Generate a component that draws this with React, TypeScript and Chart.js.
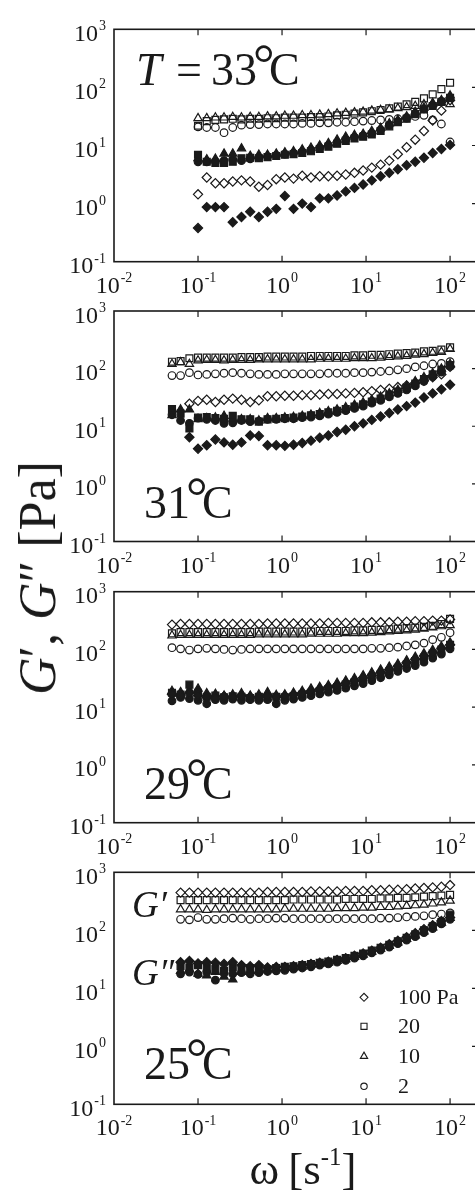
import React, { useEffect, useRef } from 'react';
import { Chart, registerables } from 'chart.js';
import { drawPoint } from 'chart.js/helpers';

Chart.register(...registerables);

const SERIF = '"Liberation Serif", "Times New Roman", Times, serif';
const INK = '#1a1a1a';

// ---------- axis ticks (decade exponents) ----------
const xTickExp = [-2, -1, 0, 1, 2];
const yTickExp = [-1, 0, 1, 2, 3];

// ---------- legend / series categories ----------
const stressLabels = ['100 Pa', '20', '10', '2'];
const temperatures = ['33', '31', '29', '25'];

// ---------- angular frequency ω [s^-1] ----------
const omega33 = [0.1, 0.127, 0.161, 0.204, 0.259, 0.329, 0.418, 0.53, 0.672, 0.853, 1.08, 1.37, 1.74, 2.21, 2.81, 3.56, 4.52, 5.73, 7.28, 9.23, 11.7, 14.9, 18.9, 23.9, 30.4, 38.5, 48.9, 62.1, 78.8, 100];
const omega31 = [0.049, 0.062, 0.079, 0.1, 0.127, 0.161, 0.204, 0.259, 0.329, 0.418, 0.53, 0.672, 0.853, 1.08, 1.37, 1.74, 2.21, 2.81, 3.56, 4.52, 5.73, 7.28, 9.23, 11.7, 14.9, 18.9, 23.9, 30.4, 38.5, 48.9, 62.1, 78.8, 100];
const omega29 = [0.049, 0.062, 0.079, 0.1, 0.127, 0.161, 0.204, 0.259, 0.329, 0.418, 0.53, 0.672, 0.853, 1.08, 1.37, 1.74, 2.21, 2.81, 3.56, 4.52, 5.73, 7.28, 9.23, 11.7, 14.9, 18.9, 23.9, 30.4, 38.5, 48.9, 62.1, 78.8, 100];
const omega25 = [0.062, 0.079, 0.1, 0.127, 0.161, 0.204, 0.259, 0.329, 0.418, 0.53, 0.672, 0.853, 1.08, 1.37, 1.74, 2.21, 2.81, 3.56, 4.52, 5.73, 7.28, 9.23, 11.7, 14.9, 18.9, 23.9, 30.4, 38.5, 48.9, 62.1, 78.8, 100];

// ---------- moduli, stored as log10(G / Pa) ----------
// T = 33 °C
const gp33_100 = [0.16, 0.45, 0.35, 0.35, 0.38, 0.40, 0.38, 0.29, 0.32, 0.42, 0.45, 0.43, 0.48, 0.45, 0.47, 0.47, 0.48, 0.50, 0.53, 0.57, 0.62, 0.67, 0.74, 0.85, 0.97, 1.10, 1.25, 1.43, 1.60, 1.78];
const gp33_20 = [1.34, 1.42, 1.44, 1.45, 1.46, 1.45, 1.46, 1.46, 1.47, 1.47, 1.48, 1.48, 1.48, 1.49, 1.49, 1.50, 1.52, 1.53, 1.55, 1.57, 1.59, 1.61, 1.64, 1.67, 1.71, 1.75, 1.81, 1.88, 1.97, 2.08];
const gp33_10 = [1.47, 1.47, 1.48, 1.48, 1.49, 1.48, 1.49, 1.49, 1.50, 1.50, 1.51, 1.51, 1.52, 1.52, 1.53, 1.54, 1.55, 1.56, 1.57, 1.58, 1.60, 1.61, 1.62, 1.64, 1.66, 1.68, 1.71, 1.73, 1.74, 1.71];
const gp33_2 = [1.32, 1.31, 1.31, 1.22, 1.31, 1.35, 1.36, 1.36, 1.37, 1.37, 1.37, 1.37, 1.38, 1.38, 1.39, 1.39, 1.40, 1.40, 1.41, 1.42, 1.43, 1.44, 1.45, 1.46, 1.48, 1.50, 1.52, 1.44, 1.37, 1.06];
const gpp33_100 = [-0.42, -0.06, -0.06, -0.06, -0.32, -0.23, -0.14, -0.23, -0.14, -0.09, 0.13, -0.09, 0.00, -0.06, 0.09, 0.09, 0.14, 0.21, 0.27, 0.33, 0.40, 0.47, 0.53, 0.59, 0.66, 0.72, 0.79, 0.87, 0.94, 1.01];
const gpp33_20 = [0.84, 0.72, 0.70, 0.70, 0.72, 0.78, 0.79, 0.78, 0.80, 0.82, 0.84, 0.85, 0.87, 0.90, 0.94, 0.98, 1.03, 1.08, 1.12, 1.15, 1.19, 1.25, 1.33, 1.40, 1.46, 1.54, 1.62, 1.68, 1.75, 1.82];
const gpp33_10 = [0.78, 0.76, 0.77, 0.86, 0.86, 0.95, 0.82, 0.84, 0.84, 0.86, 0.88, 0.90, 0.93, 0.96, 1.00, 1.04, 1.10, 1.15, 1.18, 1.20, 1.25, 1.30, 1.38, 1.44, 1.50, 1.58, 1.65, 1.72, 1.78, 1.86];
const gpp33_2 = [0.72, 0.72, 0.72, 0.74, 0.76, 0.74, 0.77, 0.79, 0.81, 0.83, 0.85, 0.87, 0.89, 0.92, 0.96, 1.00, 1.05, 1.10, 1.14, 1.17, 1.21, 1.27, 1.35, 1.41, 1.47, 1.55, 1.63, 1.69, 1.76, 1.82];

// T = 31 °C
const gp31_100 = [null, null, 1.39, 1.44, 1.46, 1.42, 1.46, 1.48, 1.46, 1.42, 1.45, 1.52, 1.52, 1.53, 1.53, 1.54, 1.54, 1.55, 1.56, 1.56, 1.57, 1.58, 1.59, 1.61, 1.63, 1.65, 1.68, 1.71, 1.75, 1.79, 1.85, 1.90, 2.03];
const gp31_20 = [2.12, 2.13, 2.18, 2.19, 2.19, 2.19, 2.19, 2.19, 2.20, 2.20, 2.20, 2.21, 2.21, 2.21, 2.21, 2.21, 2.22, 2.22, 2.22, 2.22, 2.22, 2.23, 2.23, 2.24, 2.24, 2.25, 2.26, 2.27, 2.28, 2.30, 2.31, 2.33, 2.37];
const gp31_10 = [2.08, 2.11, 2.08, 2.14, 2.15, 2.15, 2.14, 2.15, 2.15, 2.15, 2.16, 2.16, 2.16, 2.16, 2.16, 2.16, 2.16, 2.17, 2.17, 2.17, 2.17, 2.18, 2.18, 2.18, 2.19, 2.20, 2.21, 2.22, 2.24, 2.25, 2.27, 2.29, 2.34];
const gp31_2 = [1.88, 1.88, 1.93, 1.89, 1.90, 1.91, 1.92, 1.93, 1.92, 1.91, 1.90, 1.90, 1.90, 1.91, 1.91, 1.91, 1.91, 1.91, 1.92, 1.92, 1.92, 1.93, 1.93, 1.94, 1.95, 1.96, 1.98, 2.00, 2.03, 2.05, 2.08, 2.09, 2.12];
const gpp31_100 = [null, null, 0.81, 0.61, 0.67, 0.77, 0.72, 0.68, 0.72, 0.84, 0.83, 0.67, 0.67, 0.66, 0.68, 0.71, 0.75, 0.80, 0.84, 0.90, 0.94, 1.00, 1.05, 1.11, 1.17, 1.23, 1.29, 1.35, 1.41, 1.50, 1.57, 1.64, 1.72];
const gpp31_20 = [1.30, 1.22, 0.96, 1.15, 1.16, 1.14, 1.13, 1.18, 1.12, 1.12, 1.08, 1.12, 1.13, 1.14, 1.15, 1.17, 1.19, 1.21, 1.24, 1.27, 1.30, 1.34, 1.38, 1.43, 1.48, 1.54, 1.60, 1.67, 1.74, 1.82, 1.90, 1.98, 2.06];
const gpp31_10 = [1.19, 1.29, 1.29, 1.12, 1.14, 1.15, 1.18, 1.13, 1.12, 1.12, 1.10, 1.14, 1.14, 1.15, 1.16, 1.18, 1.20, 1.23, 1.26, 1.29, 1.33, 1.37, 1.41, 1.46, 1.51, 1.57, 1.63, 1.70, 1.78, 1.85, 1.92, 2.00, 2.08];
const gpp31_2 = [1.20, 1.10, 1.05, 1.14, 1.12, 1.10, 1.05, 1.06, 1.10, 1.08, 1.09, 1.12, 1.12, 1.13, 1.13, 1.15, 1.16, 1.18, 1.21, 1.24, 1.27, 1.31, 1.35, 1.40, 1.45, 1.51, 1.57, 1.63, 1.70, 1.78, 1.86, 1.94, 2.04];

// T = 29 °C
const gp29_100 = [2.43, 2.44, 2.44, 2.44, 2.44, 2.44, 2.44, 2.44, 2.44, 2.44, 2.44, 2.45, 2.45, 2.45, 2.45, 2.45, 2.45, 2.45, 2.46, 2.46, 2.46, 2.46, 2.46, 2.47, 2.47, 2.47, 2.48, 2.48, 2.49, 2.49, 2.50, 2.50, 2.52];
const gp29_20 = [2.28, 2.30, 2.30, 2.30, 2.30, 2.30, 2.30, 2.30, 2.30, 2.30, 2.31, 2.31, 2.31, 2.31, 2.31, 2.31, 2.31, 2.32, 2.32, 2.32, 2.32, 2.33, 2.33, 2.34, 2.34, 2.35, 2.36, 2.37, 2.38, 2.39, 2.41, 2.44, 2.53];
const gp29_10 = [2.24, 2.25, 2.25, 2.25, 2.25, 2.25, 2.25, 2.25, 2.25, 2.25, 2.26, 2.26, 2.26, 2.26, 2.26, 2.26, 2.27, 2.27, 2.27, 2.27, 2.28, 2.28, 2.28, 2.29, 2.30, 2.31, 2.32, 2.33, 2.34, 2.36, 2.38, 2.40, 2.42];
const gp29_2 = [2.03, 2.01, 1.99, 2.01, 2.02, 2.01, 2.00, 1.99, 2.00, 2.01, 2.01, 2.01, 2.01, 2.01, 2.01, 2.01, 2.01, 2.01, 2.01, 2.01, 2.01, 2.01, 2.01, 2.02, 2.02, 2.03, 2.04, 2.06, 2.08, 2.11, 2.17, 2.21, 2.29];
const gpp29_100 = [1.22, 1.20, 1.24, 1.20, 1.17, 1.15, 1.19, 1.17, 1.20, 1.18, 1.17, 1.20, 1.18, 1.20, 1.22, 1.25, 1.28, 1.31, 1.35, 1.38, 1.42, 1.46, 1.51, 1.55, 1.60, 1.65, 1.71, 1.77, 1.83, 1.89, 1.95, 2.02, 2.08];
const gpp29_20 = [1.25, 1.22, 1.39, 1.25, 1.18, 1.20, 1.17, 1.19, 1.18, 1.16, 1.18, 1.17, 1.18, 1.17, 1.19, 1.22, 1.25, 1.28, 1.31, 1.35, 1.39, 1.43, 1.47, 1.52, 1.57, 1.62, 1.68, 1.74, 1.80, 1.86, 1.93, 2.00, 2.08];
const gpp29_10 = [1.28, 1.26, 1.30, 1.32, 1.24, 1.23, 1.20, 1.22, 1.24, 1.20, 1.22, 1.26, 1.21, 1.22, 1.25, 1.28, 1.32, 1.35, 1.38, 1.42, 1.46, 1.50, 1.55, 1.60, 1.65, 1.70, 1.75, 1.81, 1.87, 1.93, 1.99, 2.05, 2.12];
const gpp29_2 = [1.11, 1.17, 1.15, 1.12, 1.06, 1.13, 1.12, 1.14, 1.12, 1.13, 1.12, 1.13, 1.06, 1.12, 1.14, 1.17, 1.20, 1.23, 1.26, 1.29, 1.33, 1.37, 1.41, 1.46, 1.51, 1.56, 1.62, 1.67, 1.72, 1.78, 1.85, 1.92, 2.01];

// T = 25 °C
const gp25_100 = [2.65, 2.65, 2.65, 2.65, 2.65, 2.65, 2.65, 2.65, 2.65, 2.65, 2.66, 2.66, 2.66, 2.66, 2.66, 2.67, 2.67, 2.67, 2.67, 2.68, 2.68, 2.68, 2.69, 2.69, 2.70, 2.70, 2.71, 2.72, 2.73, 2.74, 2.75, 2.78];
const gp25_20 = [2.52, 2.52, 2.52, 2.52, 2.52, 2.52, 2.52, 2.52, 2.52, 2.52, 2.52, 2.52, 2.52, 2.53, 2.53, 2.53, 2.53, 2.53, 2.53, 2.54, 2.54, 2.54, 2.54, 2.55, 2.55, 2.56, 2.56, 2.57, 2.58, 2.59, 2.60, 2.61];
const gp25_10 = [2.36, 2.36, 2.36, 2.35, 2.36, 2.36, 2.36, 2.36, 2.36, 2.36, 2.36, 2.36, 2.37, 2.37, 2.37, 2.37, 2.37, 2.37, 2.38, 2.38, 2.38, 2.39, 2.39, 2.40, 2.40, 2.41, 2.42, 2.43, 2.44, 2.46, 2.48, 2.51];
const gp25_2 = [2.19, 2.18, 2.22, 2.19, 2.19, 2.20, 2.21, 2.20, 2.19, 2.20, 2.20, 2.21, 2.21, 2.20, 2.20, 2.20, 2.20, 2.20, 2.20, 2.20, 2.20, 2.20, 2.20, 2.21, 2.21, 2.22, 2.23, 2.24, 2.25, 2.27, 2.28, 2.30];
const gpp25_100 = [1.45, 1.47, 1.43, 1.45, 1.44, 1.42, 1.45, 1.40, 1.38, 1.40, 1.36, 1.37, 1.37, 1.38, 1.40, 1.42, 1.44, 1.46, 1.49, 1.52, 1.56, 1.60, 1.65, 1.70, 1.76, 1.82, 1.88, 1.95, 2.02, 2.09, 2.16, 2.22];
const gpp25_20 = [1.38, 1.36, 1.40, 1.35, 1.33, 1.30, 1.36, 1.32, 1.35, 1.34, 1.33, 1.35, 1.37, 1.38, 1.40, 1.42, 1.44, 1.46, 1.49, 1.52, 1.56, 1.60, 1.65, 1.70, 1.75, 1.81, 1.87, 1.93, 2.00, 2.07, 2.14, 2.27];
const gpp25_10 = [1.30, 1.33, 1.25, 1.22, 1.28, 1.20, 1.15, 1.28, 1.30, 1.31, 1.33, 1.34, 1.35, 1.36, 1.37, 1.40, 1.42, 1.44, 1.47, 1.50, 1.54, 1.58, 1.63, 1.68, 1.73, 1.79, 1.85, 1.91, 1.98, 2.05, 2.13, 2.21];
const gpp25_2 = [1.25, 1.28, 1.24, 1.28, 1.14, 1.26, 1.25, 1.27, 1.25, 1.27, 1.29, 1.30, 1.31, 1.33, 1.35, 1.37, 1.40, 1.42, 1.45, 1.48, 1.52, 1.56, 1.61, 1.66, 1.71, 1.77, 1.83, 1.89, 1.96, 2.03, 2.11, 2.19];

// ---------- styling ----------
const MARKERS = [
  { style: 'rectRot', r: 4.6 },
  { style: 'rect', r: 4.9 },
  { style: 'triangle', r: 4.8 },
  { style: 'circle', r: 3.8 },
];

const CW = 490;
const CH = 320;
const PLOT_LEFT = 114;
const PLOT_RIGHT = 478;
const X_MIN = 0.01;
const X_MAX = 215;
const Y_MIN = 0.1;
const Y_MAX = 1000;
const TICK = 6;

type PanelSpec = {
  temp: string;
  omega: number[];
  gp: (number | null)[][];
  gpp: (number | null)[][];
  plotTop: number;
  plotH: number;
};

const panels: PanelSpec[] = [
  { temp: temperatures[0], omega: omega33, gp: [gp33_100, gp33_20, gp33_10, gp33_2], gpp: [gpp33_100, gpp33_20, gpp33_10, gpp33_2], plotTop: 29.3, plotH: 232.4 },
  { temp: temperatures[1], omega: omega31, gp: [gp31_100, gp31_20, gp31_10, gp31_2], gpp: [gpp31_100, gpp31_20, gpp31_10, gpp31_2], plotTop: 311, plotH: 230.5 },
  { temp: temperatures[2], omega: omega29, gp: [gp29_100, gp29_20, gp29_10, gp29_2], gpp: [gpp29_100, gpp29_20, gpp29_10, gpp29_2], plotTop: 591.7, plotH: 231 },
  { temp: temperatures[3], omega: omega25, gp: [gp25_100, gp25_20, gp25_10, gp25_2], gpp: [gpp25_100, gpp25_20, gpp25_10, gpp25_2], plotTop: 872.3, plotH: 232 },
];

function toPoints(omega: number[], logs: (number | null)[]) {
  const pts: { x: number; y: number }[] = [];
  omega.forEach((w, i) => {
    const v = logs[i];
    if (v !== null && v !== undefined) pts.push({ x: w, y: Math.pow(10, v) });
  });
  return pts;
}

function drawPow(ctx: CanvasRenderingContext2D, exp: string, x: number, y: number, align: 'center' | 'right') {
  ctx.font = `24px ${SERIF}`;
  const wb = ctx.measureText('10').width;
  ctx.font = `14px ${SERIF}`;
  const we = ctx.measureText(exp).width;
  const total = wb + we + 1;
  const x0 = align === 'center' ? x - total / 2 : x - total;
  ctx.font = `24px ${SERIF}`;
  ctx.fillText('10', x0, y);
  ctx.font = `14px ${SERIF}`;
  ctx.fillText(exp, x0 + wb + 1, y - 10.5);
}

function drawTemp(ctx: CanvasRenderingContext2D, x: number, y: number, num: string, withT: boolean) {
  const size = 46;
  ctx.fillStyle = INK;
  if (withT) {
    ctx.font = `italic ${size}px ${SERIF}`;
    ctx.fillText('T', x, y);
    x += 40;
    ctx.font = `${size}px ${SERIF}`;
    ctx.fillText('=', x, y);
    x += 35;
  }
  ctx.font = `${size}px ${SERIF}`;
  ctx.fillText(num, x, y);
  const numEnd = x + ctx.measureText(num).width;
  ctx.font = `54px ${SERIF}`;
  ctx.fillText('°', numEnd - 4, y - 3);
  ctx.font = `${size}px ${SERIF}`;
  ctx.fillText('C', numEnd + 12, y);
}

function makeDeco(p: PanelSpec, idx: number) {
  return {
    id: 'deco' + idx,
    afterDraw(chart: any) {
      const { ctx, chartArea: a, scales } = chart;
      const xs = scales.x;
      const ys = scales.y;
      ctx.save();
      ctx.strokeStyle = INK;
      ctx.lineWidth = 1.6;
      ctx.strokeRect(a.left, a.top, a.right - a.left, a.bottom - a.top);
      ctx.lineWidth = 1.2;
      ctx.beginPath();
      xTickExp.forEach((e, i) => {
        if (i === 0) return;
        const px = xs.getPixelForValue(Math.pow(10, e));
        ctx.moveTo(px, a.top);
        ctx.lineTo(px, a.top + TICK);
        ctx.moveTo(px, a.bottom);
        ctx.lineTo(px, a.bottom - TICK);
      });
      yTickExp.forEach((e, i) => {
        if (i === 0 || i === yTickExp.length - 1) return;
        const py = ys.getPixelForValue(Math.pow(10, e));
        ctx.moveTo(a.right, py);
        ctx.lineTo(a.right - TICK, py);
      });
      ctx.stroke();

      ctx.fillStyle = INK;
      ctx.textAlign = 'left';
      ctx.textBaseline = 'alphabetic';
      xTickExp.forEach((e) => {
        const px = xs.getPixelForValue(Math.pow(10, e));
        drawPow(ctx, String(e), px, a.bottom + 31, 'center');
      });
      yTickExp.forEach((e) => {
        const py = ys.getPixelForValue(Math.pow(10, e));
        drawPow(ctx, String(e), a.left - 8, py + 11.5, 'right');
      });

      if (idx === 0) {
        drawTemp(ctx, a.left + 22, a.top + 56, p.temp, true);
      } else {
        drawTemp(ctx, a.left + 30, a.top + 207, p.temp, false);
      }

      if (idx === 3) {
        ctx.fillStyle = INK;
        ctx.font = `italic 37px ${SERIF}`;
        ctx.fillText('G\u2032', a.left + 18, a.top + 45);
        ctx.fillText('G\u2033', a.left + 18, a.top + 113);
        const rows = [125, 154, 184, 214];
        stressLabels.forEach((lab, k) => {
          const cy = a.top + rows[k];
          ctx.strokeStyle = INK;
          ctx.fillStyle = 'rgba(0,0,0,0)';
          ctx.lineWidth = 1.1;
          drawPoint(ctx, { pointStyle: MARKERS[k].style as any, radius: MARKERS[k].r - 0.6, rotation: 0, borderWidth: 1.1 } as any, a.left + 250, cy);
          ctx.fillStyle = INK;
          ctx.font = `22px ${SERIF}`;
          ctx.fillText(lab, a.left + 284, cy + 7);
        });
      }
      ctx.restore();
    },
  };
}

function Panel({ spec, idx }: { spec: PanelSpec; idx: number }) {
  const ref = useRef<HTMLCanvasElement>(null);
  const canvasTop = Math.floor(spec.plotTop) - 30;
  const padTop = spec.plotTop - canvasTop;
  useEffect(() => {
    const canvas = ref.current;
    if (!canvas) return;
    const datasets: any[] = [];
    spec.gp.forEach((arr, k) => {
      datasets.push({
        label: `G\u2032 ${stressLabels[k]}`,
        data: toPoints(spec.omega, arr),
        pointStyle: MARKERS[k].style,
        pointRadius: MARKERS[k].r,
        pointBorderWidth: 1.2,
        borderColor: INK,
        backgroundColor: 'rgba(0,0,0,0)',
        showLine: false,
      });
    });
    spec.gpp.forEach((arr, k) => {
      datasets.push({
        label: `G\u2033 ${stressLabels[k]}`,
        data: toPoints(spec.omega, arr),
        pointStyle: MARKERS[k].style,
        pointRadius: MARKERS[k].r,
        pointBorderWidth: 1.2,
        borderColor: INK,
        backgroundColor: INK,
        showLine: false,
      });
    });
    const chart = new Chart(canvas, {
      type: 'scatter',
      data: { datasets },
      options: {
        responsive: false,
        animation: false,
        devicePixelRatio: 1,
        events: [],
        layout: {
          padding: {
            left: PLOT_LEFT,
            right: CW - PLOT_RIGHT,
            top: padTop,
            bottom: CH - padTop - spec.plotH,
          },
        },
        plugins: { legend: { display: false }, tooltip: { enabled: false } },
        scales: {
          x: { type: 'logarithmic', min: X_MIN, max: X_MAX, display: false },
          y: { type: 'logarithmic', min: Y_MIN, max: Y_MAX, display: false },
        },
      } as any,
      plugins: [makeDeco(spec, idx)],
    });
    return () => chart.destroy();
  }, [spec, idx, padTop]);
  return (
    <canvas
      ref={ref}
      width={CW}
      height={CH}
      style={{ position: 'absolute', left: 0, top: canvasTop, width: CW, height: CH }}
    />
  );
}

export default function App() {
  return (
    <div style={{ position: 'absolute', left: 0, top: 0, width: 475, height: 1192, overflow: 'hidden', background: '#fff' }}>
      {panels.map((p, i) => (
        <Panel key={i} spec={p} idx={i} />
      ))}
      <div
        style={{
          position: 'absolute',
          left: 38,
          top: 578,
          transform: 'translate(-50%, -50%) rotate(-90deg)',
          font: `52px ${SERIF}`,
          lineHeight: 1,
          whiteSpace: 'nowrap',
          color: INK,
        }}
      >
        <i>G</i>{'\u2032, '}<i>G</i>{'\u2033 [Pa]'}
      </div>
      <div
        style={{
          position: 'absolute',
          left: 303,
          top: 1147,
          transform: 'translateX(-50%)',
          font: `45px ${SERIF}`,
          lineHeight: 1,
          whiteSpace: 'nowrap',
          color: INK,
        }}
      >
        {'\u03C9\u2009[s'}
        <span style={{ fontSize: '0.55em', position: 'relative', top: '-0.75em' }}>-1</span>
        {']'}
      </div>
    </div>
  );
}
